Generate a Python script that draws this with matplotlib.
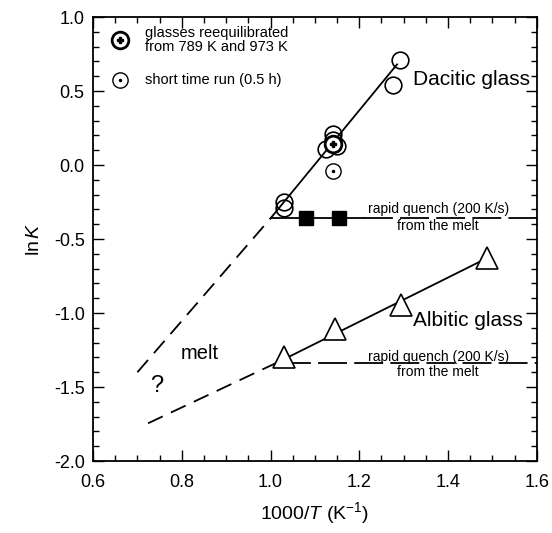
"""
ln K vs 1000/T for dacitic and albitic glasses
"""
import matplotlib
matplotlib.use('Agg')
import matplotlib.pyplot as plt
from matplotlib.ticker import MultipleLocator

plt.rcParams['font.family'] = ['Liberation Sans', 'DejaVu Sans']
plt.rcParams['mathtext.fontset'] = 'custom'
plt.rcParams['mathtext.rm'] = 'Liberation Sans'
plt.rcParams['mathtext.it'] = 'Liberation Sans:italic'

# ---- data ----
# dacitic glass, open circles
dac_x = [1.03, 1.03, 1.14, 1.14, 1.125, 1.15, 1.276, 1.291]
dac_y = [-0.25, -0.29, 0.21, 0.17, 0.11, 0.13, 0.54, 0.71]
# reequilibrated glass (circle with star)
reeq_x = [1.14]
reeq_y = [0.145]
# short time run
short_x = [1.14]
short_y = [-0.04]
# rapid quench squares
quench_x = [1.08, 1.155]
quench_y = [-0.355, -0.355]
# albitic glass, triangles
alb_x = [1.03, 1.145, 1.295, 1.487]
alb_y = [-1.30, -1.11, -0.945, -0.63]

# fitted lines
dac_fit_x = [1.0, 1.285]
dac_fit_y = [-0.36, 0.68]
dac_ext_x = [0.70, 1.0]
dac_ext_y = [-1.40, -0.36]
dac_quench_solid_x = [1.0, 1.21]
dac_quench_dash_x = [1.21, 1.6]
dac_quench_level = -0.358
alb_fit_x = [1.025, 1.487]
alb_fit_y = [-1.32, -0.63]
alb_ext_x = [0.724, 1.025]
alb_ext_y = [-1.745, -1.32]
alb_quench_x = [1.025, 1.6]
alb_quench_level = -1.34

fig = plt.figure(figsize=(5.52, 5.33), dpi=100)
ax = fig.add_axes([0.1685, 0.135, 0.804, 0.833])

lw = 1.3
dash = (0, (9, 5))
longdash = (0, (16, 4))

ax.plot(dac_fit_x, dac_fit_y, color='black', lw=lw, zorder=2)
ax.plot(dac_ext_x, dac_ext_y, color='black', lw=lw, linestyle=dash, zorder=2)
ax.plot(dac_quench_solid_x, [dac_quench_level] * 2, color='black', lw=lw, zorder=2)
ax.plot(dac_quench_dash_x, [dac_quench_level] * 2, color='black', lw=lw,
        linestyle=longdash, zorder=2)
ax.plot(alb_fit_x, alb_fit_y, color='black', lw=lw, zorder=2)
ax.plot(alb_ext_x, alb_ext_y, color='black', lw=lw, linestyle=dash, zorder=2)
ax.plot(alb_quench_x, [alb_quench_level] * 2, color='black', lw=lw,
        linestyle=longdash, zorder=2)

# markers
ax.plot(dac_x, dac_y, 'o', ms=12, mfc='none', mec='black', mew=1.2, zorder=3)
ax.plot(reeq_x, reeq_y, 'o', ms=12, mfc='white', mec='black', mew=2.0, zorder=4)
ax.plot(reeq_x, reeq_y, 'P', ms=5, color='black', zorder=5)
ax.plot(short_x, short_y, 'o', ms=11, mfc='white', mec='black', mew=1.0, zorder=4)
ax.plot(short_x, short_y, '.', ms=3, color='black', zorder=5)
ax.plot(quench_x, quench_y, 's', ms=10, color='black', zorder=4)
ax.plot(alb_x, alb_y, '^', ms=16, mfc='white', mec='black', mew=1.2, zorder=4)

# legend (drawn by hand)
ax.plot([0.661], [0.845], 'o', ms=12, mfc='white', mec='black', mew=2.0, zorder=4)
ax.plot([0.661], [0.845], 'P', ms=5, color='black', zorder=5)
ax.plot([0.661], [0.575], 'o', ms=11, mfc='white', mec='black', mew=1.0, zorder=4)
ax.plot([0.661], [0.575], '.', ms=3, color='black', zorder=5)
ax.text(0.717, 0.845, 'glasses reequilibrated\nfrom 789 K and 973 K',
        fontsize=10.5, va='center', ha='left', linespacing=1.0)
ax.text(0.717, 0.575, 'short time run (0.5 h)', fontsize=10.5, va='center', ha='left')

# annotations
ax.text(1.32, 0.575, 'Dacitic glass', fontsize=15, va='center', ha='left')
ax.text(1.32, -1.05, 'Albitic glass', fontsize=15, va='center', ha='left')
ax.text(1.378, -0.30, 'rapid quench (200 K/s)', fontsize=10, va='center', ha='center')
ax.text(1.378, -0.41, 'from the melt', fontsize=10, va='center', ha='center')
ax.text(1.378, -1.295, 'rapid quench (200 K/s)', fontsize=10, va='center', ha='center')
ax.text(1.378, -1.395, 'from the melt', fontsize=10, va='center', ha='center')
ax.text(0.841, -1.27, 'melt', fontsize=14.5, va='center', ha='center')
ax.text(0.743, -1.49, '?', fontsize=17, va='center', ha='center')

ax.set_xlim(0.6, 1.6)
ax.set_ylim(-2.0, 1.0)
ax.xaxis.set_major_locator(MultipleLocator(0.2))
ax.xaxis.set_minor_locator(MultipleLocator(0.05))
ax.yaxis.set_major_locator(MultipleLocator(0.5))
ax.yaxis.set_minor_locator(MultipleLocator(0.1))
ax.xaxis.set_major_formatter(matplotlib.ticker.FormatStrFormatter('%.1f'))
ax.yaxis.set_major_formatter(matplotlib.ticker.FormatStrFormatter('%.1f'))
ax.tick_params(which='both', direction='in', top=True, right=True,
               labelsize=13, width=1.0)
ax.tick_params(axis='x', pad=9)
ax.tick_params(axis='y', pad=6)
ax.tick_params(which='major', length=8)
ax.tick_params(which='minor', length=4)
for s in ax.spines.values():
    s.set_linewidth(1.3)

ax.set_xlabel(r'1000/$T$ (K$^{-1}$)', fontsize=14, labelpad=7)
ax.set_ylabel(r'ln$\,K$', fontsize=14, labelpad=8)

fig.savefig('out.png', dpi=100, facecolor='white')
plt.close(fig)
